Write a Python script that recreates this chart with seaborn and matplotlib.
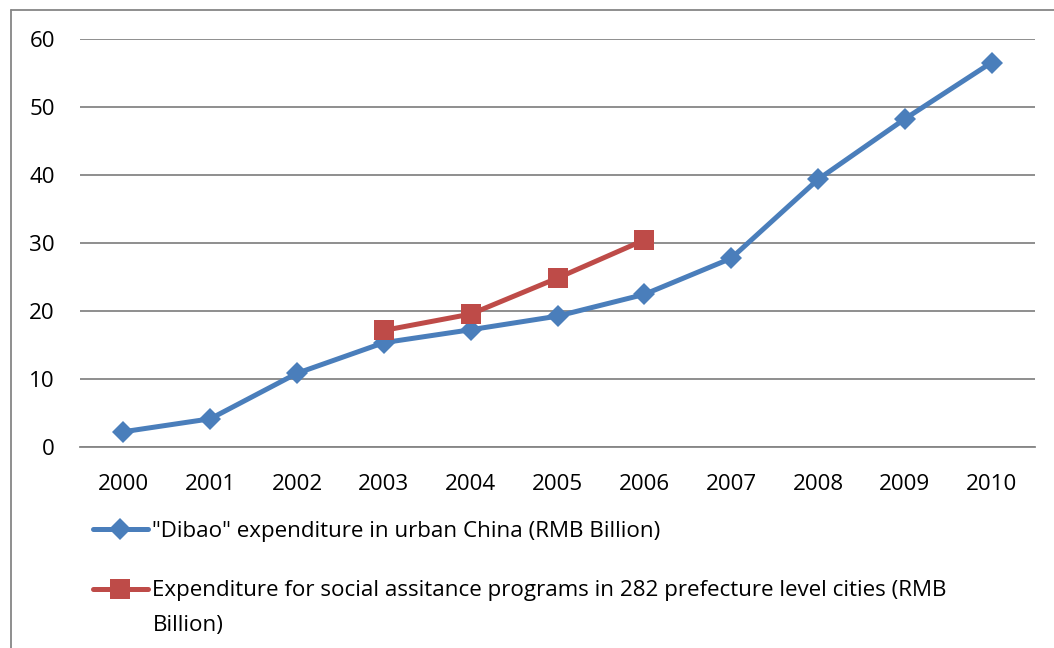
import numpy as np
import pandas as pd
import matplotlib
matplotlib.use("Agg")
import matplotlib.pyplot as plt
from matplotlib.lines import Line2D
import seaborn as sns

years = [2000, 2001, 2002, 2003, 2004, 2005, 2006, 2007, 2008, 2009, 2010]
dibao = [2.2, 4.1, 10.8, 15.3, 17.2, 19.2, 22.4, 27.7, 39.3, 48.2, 56.5]
red_years = [2003, 2004, 2005, 2006]
social = [17.1, 19.5, 24.8, 30.4]

lab_dibao = '"Dibao" expenditure in urban China (RMB Billion)'
lab_social = "Expenditure for social assitance programs in 282 prefecture level cities (RMB"
lab_social_2 = "Billion)"

blue = "#4a7ebb"
red = "#be4b48"
grey = "#868686"

sns.set_style("white")
plt.rcParams["font.family"] = ["Open Sans", "DejaVu Sans"]
plt.rcParams["text.color"] = "black"
plt.rcParams["xtick.color"] = "black"
plt.rcParams["ytick.color"] = "black"

fs = 16.1

fig = plt.figure(figsize=(10.54, 6.48), dpi=100)
ax = fig.add_axes([80 / 1054, 1 - 446.7 / 648, 955 / 1054, 408 / 648])

df1 = pd.DataFrame({"year": years, "v": dibao})
df2 = pd.DataFrame({"year": red_years, "v": social})
sns.lineplot(data=df1, x="year", y="v", ax=ax, color=blue, lw=3.6,
             marker="D", markersize=11, markeredgewidth=0, label=lab_dibao)
sns.lineplot(data=df2, x="year", y="v", ax=ax, color=red, lw=3.6,
             marker="s", markersize=14, markeredgewidth=0, label=lab_social)

ax.set_xlim(1999.5, 2010.5)
ax.set_ylim(0, 60)
ax.set_yticks(range(0, 61, 10))
ax.set_xticks(years)
ax.set_xticklabels([str(y) for y in years])
ax.set_xlabel("")
ax.set_ylabel("")
ax.grid(axis="y", color=grey, lw=1.3)
ax.set_axisbelow(True)
for s in ["top", "right", "left"]:
    ax.spines[s].set_visible(False)
ax.spines["bottom"].set_color(grey)
ax.spines["bottom"].set_linewidth(1.3)
ax.tick_params(axis="y", length=0, pad=18, labelsize=fs)
ax.tick_params(axis="x", length=0, pad=20, labelsize=fs)

ax.legend(loc="upper left", bbox_to_anchor=(93 / 1054, 1 - 521 / 648),
          bbox_transform=fig.transFigure, frameon=False, fontsize=fs,
          handlelength=2.45, handletextpad=0.2, labelspacing=1.72,
          borderaxespad=0, borderpad=0)
fig.text(153 / 1054, 1 - 626 / 648, lab_social_2, fontsize=fs, va="center", ha="left")

# outer chart frame
fig.add_artist(Line2D([11 / 1054, 11 / 1054], [0, 1 - 9.5 / 648],
                      transform=fig.transFigure, color=grey, lw=1.3))
fig.add_artist(Line2D([11 / 1054, 1], [1 - 9.5 / 648, 1 - 9.5 / 648],
                      transform=fig.transFigure, color=grey, lw=1.3))

fig.savefig("out.png", dpi=100)
